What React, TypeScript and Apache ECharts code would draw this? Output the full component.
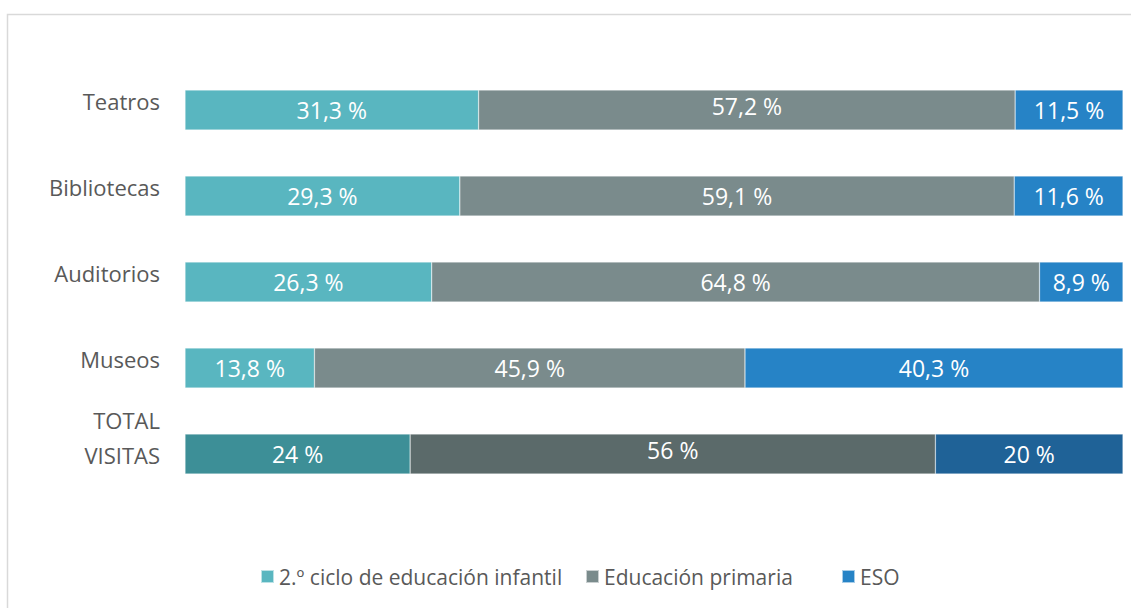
import React, { useEffect, useRef } from "react";
import * as echarts from "echarts";

const categories = ["Teatros", "Bibliotecas", "Auditorios", "Museos", "TOTAL VISITAS"];
const seriesNames = ["2.º ciclo de educación infantil", "Educación primaria", "ESO"];
const infantil = [31.3, 29.3, 26.3, 13.8, 24];
const primaria = [57.2, 59.1, 64.8, 45.9, 56];
const eso = [11.5, 11.6, 8.9, 40.3, 20];
const baseColors = ["#59B6C0", "#7A8B8C", "#2683C6"];
const totalColors = ["#3D8F97", "#5B6A6A", "#1F6297"];

const FONT = "'Open Sans', 'Noto Sans', sans-serif";

export default function App() {
  const ref = useRef<HTMLDivElement>(null);
  useEffect(() => {
    if (!ref.current) return;
    const chart = echarts.init(ref.current, null, { renderer: "svg" });
    const values = [infantil, primaria, eso];
    const series = values.map((vals, si) => ({
      name: seriesNames[si],
      type: "bar",
      stack: "total",
      barWidth: 40,
      itemStyle: { color: baseColors[si], borderColor: "rgba(255,255,255,0.6)", borderWidth: 0.5 },
      label: {
        show: true,
        position: "inside",
        color: "#ffffff",
        fontSize: 23,
        fontFamily: FONT,
        formatter: (p: any) => String(p.value).replace(".", ",") + " %",
      },
      data: vals.map((v, i) => {
        const item: any = { value: v };
        if (i === categories.length - 1) item.itemStyle = { color: totalColors[si] };
        if (si === 1 && (i === 0 || i === categories.length - 1)) item.label = { offset: [0, -4] };
        return item;
      }),
    }));
    const legendCommon = {
      top: 566,
      padding: 0,
      icon: "rect",
      itemWidth: 13,
      itemHeight: 13,
      textStyle: { color: "#595959", fontSize: 21, fontFamily: FONT },
    };
    chart.setOption({
      animation: false,
      graphic: [
        {
          type: "rect",
          shape: { x: 7.5, y: 14.5, width: 1140, height: 620 },
          style: { fill: "none", stroke: "#D9D9D9", lineWidth: 1.5 },
          silent: true,
        },
      ],
      legend: [
        { ...legendCommon, left: 260, data: [seriesNames[0]] },
        { ...legendCommon, left: 585, data: [seriesNames[1]] },
        { ...legendCommon, left: 841, data: [seriesNames[2]] },
      ],
      grid: { left: 185, right: 8, top: 67, height: 430 },
      xAxis: { type: "value", min: 0, max: 100, show: false },
      yAxis: {
        type: "category",
        data: categories,
        inverse: true,
        axisLine: { show: false },
        axisTick: { show: false },
        splitLine: { show: false },
        axisLabel: {
          margin: 25,
          color: "#595959",
          fontSize: 22,
          fontFamily: FONT,
          formatter: (v: string) =>
            v === "TOTAL VISITAS" ? "{t|TOTAL}\n{t|VISITAS}\n{s2| }" : `{n|${v}}\n{s| }`,
          rich: {
            n: { fontSize: 22, lineHeight: 24, color: "#595959", fontFamily: FONT, align: "right" },
            s: { fontSize: 10, lineHeight: 18, align: "right" },
            t: { fontSize: 22, lineHeight: 35, color: "#595959", fontFamily: FONT, align: "right" },
            s2: { fontSize: 10, lineHeight: 33, align: "right" },
          },
        },
      },
      series,
    });
    return () => chart.dispose();
  }, []);
  return (
    <div
      ref={ref}
      style={{ position: "fixed", left: 0, top: 0, width: 1131, height: 608, background: "#fff" }}
    />
  );
}
